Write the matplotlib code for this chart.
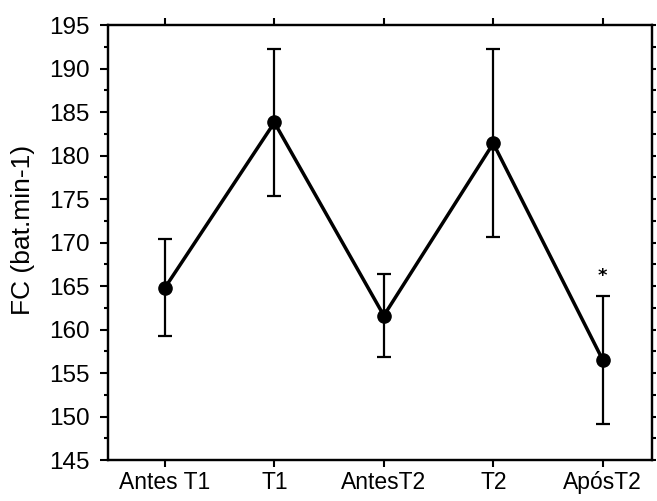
import matplotlib
matplotlib.use("Agg")
import matplotlib.pyplot as plt
from matplotlib.ticker import MultipleLocator

# heart rate (mean +- sd) at each moment of the protocol
momentos = ["Antes T1", "T1", "AntesT2", "T2", "ApósT2"]
fc_media = [164.8, 183.8, 161.6, 181.4, 156.5]
fc_dp = [5.6, 8.5, 4.8, 10.8, 7.4]
signif = ["", "", "", "", "*"]

plt.rcParams["font.family"] = ["Liberation Sans", "DejaVu Sans"]

fig = plt.figure(figsize=(6.57, 5.01), dpi=100)
ax = fig.add_axes([0.1644, 0.0818, 0.828, 0.8682])

x = list(range(len(momentos)))
ax.errorbar(x, fc_media, yerr=fc_dp, color="black", lw=2.5, elinewidth=1.6,
            capsize=5, capthick=1.6, marker="o", markersize=9.5)

for xi, m, s, txt in zip(x, fc_media, fc_dp, signif):
    if txt:
        ax.text(xi, m + s + 1.2, txt, ha="center", va="bottom", fontsize=13,
                fontweight="bold", family="DejaVu Sans")

ax.set_xlim(-0.52, 4.45)
ax.set_ylim(145, 195)
ax.set_xticks(x)
ax.set_xticklabels(momentos, fontsize=16.5)
ax.yaxis.set_major_locator(MultipleLocator(5))
ax.yaxis.set_minor_locator(MultipleLocator(2.5))
ax.tick_params(axis="y", which="major", direction="out", length=6, width=1.5,
               labelsize=17.5, pad=7)
ax.tick_params(axis="y", which="minor", direction="out", length=3, width=1.5)
ax.tick_params(axis="x", direction="out", length=5, width=1.5, top=True,
               pad=3)

# right side only carries short ticks at every 2.5
ax2 = ax.twinx()
ax2.set_ylim(145, 195)
ax2.yaxis.set_major_locator(MultipleLocator(2.5))
ax2.tick_params(axis="y", direction="out", length=3, width=1.5, labelright=False)

for a in (ax, ax2):
    for sp in a.spines.values():
        sp.set_linewidth(1.6)

ax.set_ylabel("FC (bat.min-1)", fontsize=19)
ax.yaxis.set_label_coords(-0.135, 0.53)

fig.savefig("out.png", dpi=100)
